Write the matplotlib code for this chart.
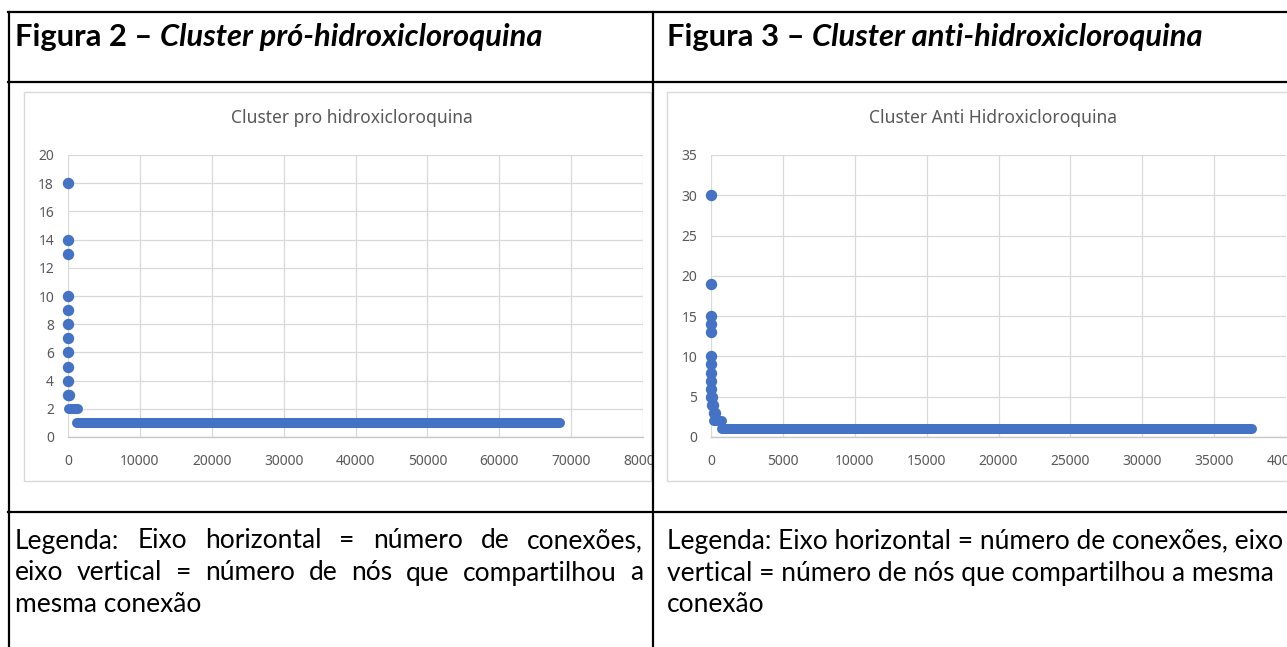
import matplotlib
matplotlib.use('Agg')
import matplotlib.pyplot as plt
from matplotlib.patches import Rectangle
from matplotlib.lines import Line2D

# ---------------- data ----------------
pro_title = "Cluster pro hidroxicloroquina"
pro_hub_x = [0, 0, 0, 0, 0, 0, 0, 0, 0, 0, 0, 150]
pro_hub_y = [18, 14, 13, 10, 9, 8, 7, 6, 5, 4, 3, 3]
pro_band2_x = [200, 1400]      # y = 2 run of points
pro_band1_x = [1300, 68500]    # y = 1 run of points
pro_xticks = [0, 10000, 20000, 30000, 40000, 50000, 60000, 70000, 80000]
pro_yticks = [0, 2, 4, 6, 8, 10, 12, 14, 16, 18, 20]

anti_title = "Cluster Anti Hidroxicloroquina"
anti_hub_x = [0, 0, 0, 0, 0, 0, 0, 0, 0, 0, 0, 60, 80, 120, 180, 250]
anti_hub_y = [30, 19, 15, 14, 13, 10, 9, 8, 7, 6, 5, 5, 4, 4, 3, 3]
anti_band2_x = [200, 760]
anti_band1_x = [760, 37600]
anti_xticks = [0, 5000, 10000, 15000, 20000, 25000, 30000, 35000, 40000]
anti_yticks = [0, 5, 10, 15, 20, 25, 30, 35]

head_left = ("Figura 2 – ", "Cluster pró-hidroxicloroquina")
head_right = ("Figura 3 – ", "Cluster anti-hidroxicloroquina")
legend_left = ["Legenda: Eixo horizontal = número de conexões,",
               "eixo vertical = número de nós que compartilhou a",
               "mesma conexão"]
legend_right = ["Legenda: Eixo horizontal = número de conexões, eixo",
                "vertical = número de nós que compartilhou a mesma",
                "conexão"]

# ---------------- layout ----------------
W, H = 1287, 647
fig = plt.figure(figsize=(W / 100, H / 100), dpi=100)
fig.patch.set_facecolor('white')
renderer = fig.canvas.get_renderer()

def fx(x):
    return x / W

def fy(y):
    return 1 - y / H

BLUE = '#4472C4'
GRID = '#D9D9D9'
TXT = '#595959'
DOC_FONT = ['Lato', 'DejaVu Sans']
CHART_FONT = ['Noto Sans', 'DejaVu Sans']
MS = 7.2  # marker diameter in points

def text_width(s, size, **kw):
    t = fig.text(0, 0, s, fontsize=size, **kw)
    w = t.get_window_extent(renderer).width
    t.remove()
    return w

def fit_size(s, target, **kw):
    w = text_width(s, 10, **kw)
    return 10 * target / w

def draw_chart(box, plot, hx, hy, b2, b1, xt, yt):
    bx0, by0, bx1, by1 = box
    fig.add_artist(Rectangle((fx(bx0), fy(by1)), fx(bx1) - fx(bx0), fy(by0) - fy(by1),
                             transform=fig.transFigure, facecolor='white',
                             edgecolor=GRID, lw=1.0, zorder=-1))
    px0, py0, px1, py1 = plot
    ax = fig.add_axes([fx(px0), fy(py1), fx(px1) - fx(px0), fy(py0) - fy(py1)])
    ax.set_facecolor('none')
    ax.set_xlim(xt[0], xt[-1])
    ax.set_ylim(yt[0], yt[-1])
    ax.set_xticks(xt)
    ax.set_yticks(yt)
    ax.set_xticklabels([str(v) for v in xt])
    ax.set_yticklabels([str(v) for v in yt])
    ax.grid(True, color=GRID, lw=0.9)
    ax.set_axisbelow(True)
    for s in ['top', 'right', 'left']:
        ax.spines[s].set_visible(False)
    ax.spines['bottom'].set_color('#C8C8C8')
    ax.spines['bottom'].set_linewidth(1.0)
    ax.tick_params(length=0, labelcolor=TXT, labelsize=10)
    ax.tick_params(axis='x', pad=12)
    ax.tick_params(axis='y', pad=10)
    for lab in ax.get_xticklabels() + ax.get_yticklabels():
        lab.set_family(CHART_FONT)
    ax.plot(b2, [2, 2], color=BLUE, lw=MS, solid_capstyle='round', clip_on=False, zorder=3)
    ax.plot(b1, [1, 1], color=BLUE, lw=MS, solid_capstyle='round', clip_on=False, zorder=3)
    ax.plot(hx, hy, 'o', color=BLUE, ms=MS, mec=BLUE, clip_on=False, zorder=4)
    return ax

draw_chart((24, 92, 651, 481), (68, 155, 643, 437),
           pro_hub_x, pro_hub_y, pro_band2_x, pro_band1_x, pro_xticks, pro_yticks)
draw_chart((667, 92, 1295, 481), (711, 155, 1286, 437),
           anti_hub_x, anti_hub_y, anti_band2_x, anti_band1_x, anti_xticks, anti_yticks)

# chart titles
ts = fit_size(pro_title, 241, family=CHART_FONT)
fig.text(fx(352), fy(118), pro_title, fontsize=ts, color=TXT, family=CHART_FONT,
         ha='center', va='center')
fig.text(fx(993), fy(118), anti_title, fontsize=ts, color=TXT, family=CHART_FONT,
         ha='center', va='center')

# white gap between the two chart frames (clips the last tick label)
fig.add_artist(Rectangle((fx(651.5), fy(485)), fx(666) - fx(651.5), fy(440) - fy(485),
                         transform=fig.transFigure, facecolor='white',
                         edgecolor='none', zorder=5))

# headings: bold + bold italic
def heading(x, y, parts, size):
    a, b = parts
    t1 = fig.text(fx(x), fy(y), a, fontsize=size, weight='bold', family=DOC_FONT,
                  va='center', ha='left', color='black', zorder=6)
    w = t1.get_window_extent(renderer).width
    fig.text(fx(x + w), fy(y), b, fontsize=size, weight='bold', style='italic',
             family=DOC_FONT, va='center', ha='left', color='black', zorder=6)

w_a = text_width(head_left[0], 10, weight='bold', family=DOC_FONT)
w_b = text_width(head_left[1], 10, weight='bold', style='italic', family=DOC_FONT)
hs = 10 * (541 - 15) / (w_a + w_b)
heading(15, 37, head_left, hs)
heading(667, 37, head_right, hs)

# legend text
ls = fit_size(legend_right[0], 1283 - 667, family=DOC_FONT)

def justified(x0, x1, y, line):
    words = line.split(' ')
    widths = [text_width(wd, ls, family=DOC_FONT) for wd in words]
    gap = (x1 - x0 - sum(widths)) / (len(words) - 1)
    x = x0
    for wd, ww in zip(words, widths):
        fig.text(fx(x), fy(y), wd, fontsize=ls, family=DOC_FONT, va='center',
                 ha='left', color='black', zorder=6)
        x += ww + gap

def plain(x, y, line):
    fig.text(fx(x), fy(y), line, fontsize=ls, family=DOC_FONT, va='center',
             ha='left', color='black', zorder=6)

ys = [541, 573, 605]
justified(15, 643, ys[0], legend_left[0])
justified(15, 643, ys[1], legend_left[1])
plain(15, ys[2], legend_left[2])
for yy, line in zip(ys, legend_right):
    plain(667, yy, line)

# table borders
LW = 1.6
def hline(y, x0, x1):
    fig.add_artist(Line2D([fx(x0), fx(x1)], [fy(y), fy(y)], transform=fig.transFigure,
                          color='black', lw=LW, zorder=7))

def vline(x, y0, y1):
    fig.add_artist(Line2D([fx(x), fx(x)], [fy(y0), fy(y1)], transform=fig.transFigure,
                          color='black', lw=LW, zorder=7))

hline(12, 8, W)
hline(82, 8, W)
hline(512, 8, W)
vline(9, 12, H)
vline(652.5, 12, H)

fig.savefig('out.png', dpi=100, facecolor='white')
